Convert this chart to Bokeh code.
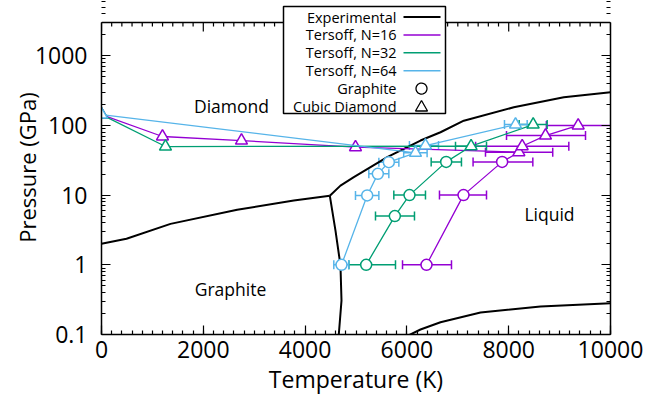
import numpy as np
from bokeh.plotting import figure
from bokeh.models import (ColumnDataSource, Whisker, TeeHead, LogAxis, Title, Span,
                          FixedTicker, SingleIntervalTicker, Label, BoxAnnotation,
                          PolyAnnotation, Range1d, CustomJSTickFormatter)
from bokeh.embed import file_html
from bokeh.resources import INLINE

# ---------------- data ----------------
# experimental phase boundaries (T in K, P in GPa)
exp_gd_T = [0, 491, 1356, 2666, 3778, 4486]
exp_gd_P = [2.0, 2.37, 3.87, 6.15, 8.36, 9.78]
exp_gl_T = [4486, 4597, 4695, 4715, 4662, 4655]
exp_gl_P = [9.78, 3.1, 0.98, 0.307, 0.1, 0.09]
exp_dl_T = [4486, 4695, 4957, 5613, 6267, 6660, 7118, 8100, 9083, 10000]
exp_dl_P = [9.78, 13.7, 18.1, 35.0, 60.7, 79.8, 117, 182, 254, 299]
exp_lv_T = [6030, 6267, 6660, 7446, 8625, 10000]
exp_lv_P = [0.097, 0.118, 0.15, 0.207, 0.252, 0.281]

# Tersoff N=16
n16_gr_T = [6385, 7112, 7871]
n16_gr_P = [1, 10, 30]
n16_gr_lo = [5914, 6640, 7300]
n16_gr_hi = [6876, 7564, 8474]
n16_dm_T = [8200, 8265, 8723, 9365]
n16_dm_P = [41.3, 50.3, 71.6, 100]
n16_dm_lo = [7544, 7350, 7957, 8740]
n16_dm_hi = [8865, 9181, 9509, 10150]
n16_co_T = [0, 1198, 2750, 4990]
n16_co_P = [143, 69.4, 60.7, 48.7]

# Tersoff N=32
n32_gr_T = [5200, 5763, 6051, 6772]
n32_gr_P = [1, 5, 10, 30]
n32_gr_lo = [4860, 5383, 5743, 6477]
n32_gr_hi = [5776, 6149, 6365, 7072]
n32_dm_T = [7261, 8481]
n32_dm_P = [50.3, 103]
n32_dm_lo = [6955, 8206]
n32_dm_hi = [7564, 8756]
n32_co_T = [0, 1257]
n32_co_P = [143, 49.8]

# Tersoff N=64
n64_gr_T = [4715, 5220, 5429, 5645]
n64_gr_P = [1, 9.9, 20.2, 29.7]
n64_gr_lo = [4564, 4990, 5252, 5449]
n64_gr_hi = [4859, 5449, 5645, 5842]
n64_dm_T = [6169, 6365, 8134]
n64_dm_P = [40.4, 51.5, 103]
n64_dm_lo = [5937, 6050, 7917]
n64_dm_hi = [6397, 6621, 8363]
n64_co_T = [0]
n64_co_P = [143]

x_ticks = [0, 2000, 4000, 6000, 8000, 10000]
y_ticks = [0.1, 1, 10, 100, 1000]
X_MIN, X_MAX, Y_MIN, Y_MAX = 0, 10000, 0.1, 3000

C16 = "#9400D3"
C32 = "#009E73"
C64 = "#56B4E9"
FONT = "Open Sans"

series = [
    ("Tersoff, N=16", C16, n16_gr_T, n16_gr_P, n16_gr_lo, n16_gr_hi,
     n16_dm_T, n16_dm_P, n16_dm_lo, n16_dm_hi, n16_co_T, n16_co_P),
    ("Tersoff, N=32", C32, n32_gr_T, n32_gr_P, n32_gr_lo, n32_gr_hi,
     n32_dm_T, n32_dm_P, n32_dm_lo, n32_dm_hi, n32_co_T, n32_co_P),
    ("Tersoff, N=64", C64, n64_gr_T, n64_gr_P, n64_gr_lo, n64_gr_hi,
     n64_dm_T, n64_dm_P, n64_dm_lo, n64_dm_hi, n64_co_T, n64_co_P),
]

# ---------------- figure ----------------
# The frame extends 22 px above the axes box so that the key, which overlaps the
# top border (as in the original), is not clipped.
FRAME_H, BOX_H = 334, 312
y_top = Y_MIN * (Y_MAX / Y_MIN) ** (FRAME_H / BOX_H)
p = figure(width=663, height=399, output_backend="svg", toolbar_location=None,
           y_axis_type="log", x_range=Range1d(X_MIN, X_MAX), y_range=Range1d(Y_MIN, y_top),
           min_border_left=101, min_border_right=53, min_border_top=0,
           min_border_bottom=65)
p.xgrid.grid_line_color = None
p.ygrid.grid_line_color = None
p.outline_line_color = None
p.background_fill_color = "white"
p.border_fill_color = "white"

minor_y = [m * 10.0 ** e for e in range(-1, 4) for m in range(2, 10)]
minor_x = [v for v in range(X_MIN, X_MAX + 1, 200) if v not in x_ticks]
xticker = SingleIntervalTicker(interval=2000, num_minor_ticks=10)
yticker = FixedTicker(ticks=y_ticks, minor_ticks=minor_y)

MAJ, MIN = 9, 4

def style_axis(ax):
    ax.axis_line_width = 1.5
    ax.axis_line_color = "black"
    ax.major_tick_in = MAJ
    ax.major_tick_out = 0
    ax.minor_tick_in = MIN
    ax.minor_tick_out = 0
    ax.major_tick_line_width = 1.2
    ax.minor_tick_line_width = 1.2
    ax.major_label_text_font = FONT
    ax.major_label_text_font_size = "23px"
    ax.major_label_text_color = "black"

xa = p.xaxis[0]
xa.ticker = xticker
style_axis(xa)
xa.major_label_standoff = 6

ya = p.yaxis[0]
ya.ticker = yticker
ya.bounds = (Y_MIN, Y_MAX)
style_axis(ya)
ya.major_label_standoff = 14
ya.formatter = CustomJSTickFormatter(code="return String(tick)")

blank = CustomJSTickFormatter(code="return ''")
right = LogAxis(ticker=yticker, formatter=blank, bounds=(Y_MIN, Y_MAX))
style_axis(right)
right.major_label_standoff = 0
p.add_layout(right, "right")

# axis titles
p.add_layout(Title(text="Temperature (K)", align="center", standoff=0,
                   text_font=FONT, text_font_size="23px", text_font_style="normal",
                   text_color="black"), "below")
p.add_layout(Title(text="Pressure (GPa)", align="center", offset=-21, standoff=-20,
                   text_font=FONT, text_font_size="22px", text_font_style="normal",
                   text_color="black"), "left")

# top border with inward ticks
p.add_layout(Span(location=Y_MAX, dimension="width", line_color="black", line_width=1.5))
maj_f = 10 ** (MAJ * np.log10(Y_MAX / Y_MIN) / BOX_H)
min_f = 10 ** (MIN * np.log10(Y_MAX / Y_MIN) / BOX_H)
p.segment(x0=x_ticks, y0=[Y_MAX] * len(x_ticks), x1=x_ticks,
          y1=[Y_MAX / maj_f] * len(x_ticks), line_color="black", line_width=1.2)
p.segment(x0=minor_x, y0=[Y_MAX] * len(minor_x), x1=minor_x,
          y1=[Y_MAX / min_f] * len(minor_x), line_color="black", line_width=1.2)

# ---------------- experimental ----------------
for T, P in [(exp_gd_T, exp_gd_P), (exp_gl_T, exp_gl_P), (exp_dl_T, exp_dl_P), (exp_lv_T, exp_lv_P)]:
    p.line(T, P, line_color="black", line_width=2)

# ---------------- simulations ----------------
for name, c, gT, gP, glo, ghi, dT, dP, dlo, dhi, cT, cP in series:
    p.line(cT + dT[:1], cP + dP[:1], line_color=c, line_width=1.3)
    p.line(gT + dT, gP + dP, line_color=c, line_width=1.3)
    for T, P, lo, hi in [(gT, gP, glo, ghi), (dT, dP, dlo, dhi)]:
        src = ColumnDataSource(dict(T=T, P=P, lo=lo, hi=hi))
        w = Whisker(source=src, base="P", lower="lo", upper="hi", dimension="width",
                    line_color=c, line_width=1.5,
                    lower_head=TeeHead(size=9, line_color=c, line_width=1.5),
                    upper_head=TeeHead(size=9, line_color=c, line_width=1.5))
        p.add_layout(w)
    p.scatter(gT, gP, marker="circle", size=11, fill_color="white", line_color=c, line_width=1.5)
    p.scatter(cT + dT, cP + dP, marker="triangle", size=12, fill_color="white", line_color=c, line_width=1.5)

# ---------------- region labels ----------------
for txt, T, P in [("Diamond", 2554, 193), ("Graphite", 2534, 0.457), ("Liquid", 8802, 5.36)]:
    p.add_layout(Label(x=T, y=P, text=txt, text_font=FONT, text_font_size="17.5px",
                       text_align="center", text_baseline="middle", text_color="black"))

# ---------------- key (gnuplot style: label then sample) ----------------
# screen units: x from frame left (canvas 101), y up from frame bottom (canvas 334)
FL, FB = 101, 334
L, R, TOP, BOT = 283, 445, 6, 113
p.add_layout(BoxAnnotation(left=L - FL, right=R - FL, top=FB - TOP, bottom=FB - BOT,
                           left_units="screen", right_units="screen",
                           top_units="screen", bottom_units="screen",
                           fill_color="white", fill_alpha=1.0, line_alpha=1.0,
                           line_color="black", line_width=1.5, level="overlay"))
legend_rows = [("Experimental", "black", "line"), ("Tersoff, N=16", C16, "line"),
               ("Tersoff, N=32", C32, "line"), ("Tersoff, N=64", C64, "line"),
               ("Graphite", "black", "circle"), ("Cubic Diamond", "black", "triangle")]
for i, (txt, c, kind) in enumerate(legend_rows):
    yy = 16.5 + i * 17.9
    p.add_layout(Label(x=396 - FL, y=FB - yy, x_units="screen", y_units="screen", text=txt,
                       text_font=FONT, text_font_size="14.5px", text_align="right",
                       text_baseline="middle", text_color="black", level="overlay"))
    if kind == "line":
        lw = 2 if c == "black" else 1.5
        p.add_layout(BoxAnnotation(left=403 - FL, right=440 - FL,
                                   top=FB - yy + lw / 2, bottom=FB - yy - lw / 2,
                                   left_units="screen", right_units="screen",
                                   top_units="screen", bottom_units="screen",
                                   fill_color=c, fill_alpha=1.0, line_alpha=0, level="overlay"))
    elif kind == "circle":
        a = np.linspace(0, 2 * np.pi, 30)
        p.add_layout(PolyAnnotation(xs=list(421 - FL + 5.5 * np.cos(a)),
                                    ys=list(FB - yy + 5.5 * np.sin(a)),
                                    xs_units="screen", ys_units="screen",
                                    fill_alpha=0, line_alpha=1.0, line_color="black",
                                    line_width=1.3, level="overlay"))
    else:
        p.add_layout(PolyAnnotation(xs=[415 - FL, 427 - FL, 421 - FL],
                                    ys=[FB - yy - 4.5, FB - yy - 4.5, FB - yy + 6],
                                    xs_units="screen", ys_units="screen",
                                    fill_alpha=0, line_alpha=1.0, line_color="black",
                                    line_width=1.3, level="overlay"))

open("out.html", "w").write(file_html(p, INLINE))
